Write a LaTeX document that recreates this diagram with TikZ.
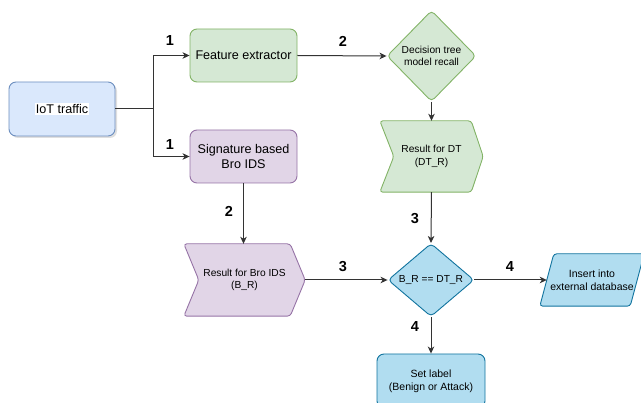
\documentclass[tikz,border=0pt]{standalone}
\usepackage{fontspec}
\setmainfont{Liberation Sans}
\usetikzlibrary{arrows.meta,shapes.geometric,shadows,backgrounds}
\definecolor{bluefill}{HTML}{DAE8FC}
\definecolor{bluedraw}{HTML}{6C8EBF}
\definecolor{greenfill}{HTML}{D5E8D4}
\definecolor{greendraw}{HTML}{82B366}
\definecolor{purplefill}{HTML}{E1D5E7}
\definecolor{purpledraw}{HTML}{9673A6}
\definecolor{cyanfill}{HTML}{B1DDF0}
\definecolor{cyandraw}{HTML}{10739E}
\definecolor{linecol}{HTML}{333333}
\tikzset{
  box/.style={rectangle, rounded corners=7pt, line width=0.9pt, inner sep=0pt, align=center},
  bigtext/.style={font=\fontsize{12.6}{15}\selectfont},
  smalltext/.style={font=\fontsize{10.2}{12.5}\selectfont},
  midtext/.style={font=\fontsize{10.5}{13}\selectfont},
  dia/.style={diamond, rounded corners=4pt, line width=0.9pt, inner sep=0pt, align=center},
  textonly/.style={inner sep=0pt, align=center},
  conn/.style={linecol, line width=1pt, -{Stealth[length=7pt,width=6.5pt,inset=2pt]}},
  plainconn/.style={linecol, line width=1pt},
  numlabel/.style={font=\fontsize{14.5}{16}\bfseries\selectfont, inner sep=0pt},
  shapeborder/.style={line width=0.9pt, rounded corners=3pt}
}
\begin{document}
\begin{tikzpicture}[x=1pt,y=-1pt]
\useasboundingbox (0,0) rectangle (641,403);
% nodes
\node[box, bigtext, fill=bluefill, draw=bluedraw, minimum width=106pt, minimum height=54pt,
      drop shadow={shadow xshift=2pt, shadow yshift=-2pt, opacity=0.25}] (iot) at (62,109)
      {\setlength{\fboxsep}{1pt}\colorbox{white}{IoT traffic}};
\node[box, bigtext, fill=greenfill, draw=greendraw, minimum width=107pt, minimum height=53pt] (fe) at (243.5,55.5) {Feature extractor};
\node[box, bigtext, fill=purplefill, draw=purpledraw, minimum width=107pt, minimum height=53pt] (bro) at (243.5,156.5) {Signature based\\Bro IDS};
\node[dia, smalltext, fill=greenfill, draw=greendraw, minimum width=89pt, minimum height=91pt] (dt) at (431.5,56) {Decision tree\\model recall};
\node[textonly, smalltext, minimum width=103pt, minimum height=71pt] (rdt) at (431.5,156.5) {Result for DT\\(DT\_R)};
\node[textonly, smalltext, minimum width=121pt, minimum height=72pt] (rbro) at (244.5,280) {Result for Bro IDS\\(B\_R)};
\node[dia, smalltext, fill=cyanfill, draw=cyandraw, minimum width=86pt, minimum height=66pt] (cmp) at (431,280) {B\_R == DT\_R};
\node[textonly, midtext, minimum width=90pt, minimum height=52pt] (ins) at (592,280) {Insert into\\external database};
\node[box, midtext, fill=cyanfill, draw=cyandraw, minimum width=108pt, minimum height=54pt] (lab) at (431,381) {Set label\\(Benign or Attack)};
% background shapes
\begin{scope}[on background layer]
\draw[shapeborder, fill=greenfill, draw=greendraw]
  (rdt.north west) -- ([xshift=-12pt]rdt.north east) -- (rdt.east) -- ([xshift=-12pt]rdt.south east)
  -- (rdt.south west) -- ([xshift=14pt]rdt.west) -- cycle;
\draw[shapeborder, fill=purplefill, draw=purpledraw]
  (rbro.north west) -- ([xshift=-15pt]rbro.north east) -- (rbro.east) -- ([xshift=-15pt]rbro.south east)
  -- (rbro.south west) -- ([xshift=15pt]rbro.west) -- cycle;
\draw[shapeborder, fill=cyanfill, draw=cyandraw]
  ([xshift=7pt]ins.north west) -- ([xshift=7pt]ins.north east) -- ([xshift=-7pt]ins.south east)
  -- ([xshift=-7pt]ins.south west) -- cycle;
\end{scope}
% connectors
\coordinate (split) at (153,109);
\draw[plainconn] (iot.east) -- (split);
\draw[conn] (split) |- (fe.west);
\draw[conn] (split) |- (bro.west);
\draw[conn] (fe.east) -- (dt.west);
\draw[conn] (dt.south) -- (rdt.north);
\draw[conn] (bro.south) -- (bro.south |- rbro.north);
\draw[conn] (rdt.south) -- (cmp.north);
\draw[conn] (rbro.east) -- (cmp.west);
\draw[conn] (cmp.east) -- (ins.west);
\draw[conn] (cmp.south) -- (lab.north);
% labels
\node[numlabel] (l1a) at (170,41) {1};
\node[numlabel] (l1b) at (170,145) {1};
\node[numlabel] (l2a) at (343,41) {2};
\node[numlabel] (l2b) at (229,211) {2};
\node[numlabel] (l3a) at (415,219) {3};
\node[numlabel] (l3b) at (343,267) {3};
\node[numlabel] (l4a) at (510,267) {4};
\node[numlabel] (l4b) at (415,327) {4};
\end{tikzpicture}
\end{document}
